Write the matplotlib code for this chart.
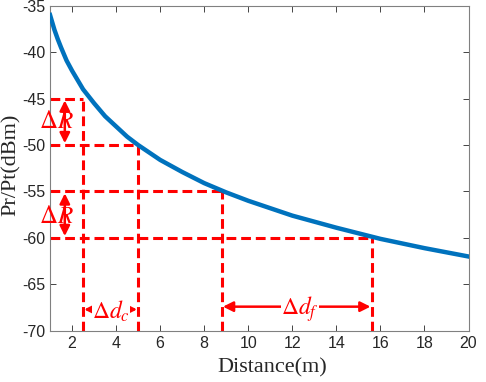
import matplotlib
matplotlib.use("Agg")
from matplotlib import pyplot as plt

plt.rcParams["mathtext.fontset"] = "stix"
plt.rcParams["axes.unicode_minus"] = False
plt.rcParams["font.family"] = ["Liberation Sans", "DejaVu Sans"]

# path loss curve
distance = [1, 1.1, 1.2, 1.35, 1.5, 1.75, 2, 2.25, 2.5, 3, 3.5, 4, 4.5, 5,
            6, 7, 8, 9, 10, 12, 14, 16, 18, 20]
power = [-36, -36.8, -37.6, -38.6, -39.5, -40.9, -42, -43.0, -44, -45.5,
         -46.9, -48, -49.1, -50, -51.6, -52.9, -54.1, -55.1, -56, -57.6,
         -58.9, -60.1, -61.1, -62]

# dashed guide lines: level (dBm) and the distance where it stops
levels = [-45, -50, -55, -60]
level_dist = [2.5, 5.0, 8.8, 15.6]

xticks = list(range(2, 21, 2))
yticks = list(range(-70, -34, 5))

blue = "#0072BD"
red = "#FF0000"
gray = "#262626"
serif = ["Liberation Serif", "DejaVu Serif"]
dash = (0, (3.2, 1.6))

fig = plt.figure(figsize=(4.86, 3.82), dpi=100)
ax = fig.add_axes([0.103, 0.134, 0.861, 0.851])

ax.plot(distance, power, color=blue, lw=3.2, zorder=3)

for lv, d in zip(levels, level_dist):
    ax.plot([1, d], [lv, lv], color=red, lw=2.2, linestyle=dash, zorder=2)
    ax.plot([d, d], [-70, lv], color=red, lw=2.2, linestyle=dash, zorder=2,
            clip_on=False)

arrow = dict(arrowstyle="<|-|>,head_length=0.6,head_width=0.3",
             color=red, lw=1.8, shrinkA=0, shrinkB=0)
box = dict(facecolor="white", edgecolor="none", pad=0)

# delta R arrows
ax.annotate("", xy=(1.67, -45.2), xytext=(1.67, -49.8), arrowprops=arrow)
ax.annotate("", xy=(1.67, -55.2), xytext=(1.67, -59.8), arrowprops=arrow)
for yc in [-47.4, -57.6]:
    ax.text(1.3, yc, r"$\Delta R$", color=red, fontsize=18,
            ha="center", va="center")

# delta d arrows
ax.annotate("", xy=(2.55, -67.7), xytext=(4.95, -67.7), arrowprops=arrow)
ax.annotate("", xy=(8.85, -67.4), xytext=(15.55, -67.4), arrowprops=arrow)
ax.text(3.75, -67.9, r"$\Delta d_c$", color=red, fontsize=17,
        ha="center", va="center", bbox=box)
ax.text(12.35, -67.7, r"$\Delta d_f$", color=red, fontsize=17,
        ha="center", va="center", bbox=box)

ax.set_xlim(1, 20)
ax.set_ylim(-70, -35)
ax.set_xticks(xticks)
ax.set_yticks(yticks)
ax.tick_params(direction="in", top=True, right=True, length=4,
               width=0.6, colors=gray, labelsize=11.5)
for s in ax.spines.values():
    s.set_color("#808080")
    s.set_linewidth(0.8)

ax.set_xlabel("Distance(m)", family=serif, fontsize=16, color=gray)
ax.set_ylabel("Pr/Pt(dBm)", family=serif, fontsize=16, color=gray)
ax.xaxis.set_label_coords(0.53, -0.085)
ax.yaxis.set_label_coords(-0.07, 0.51)

fig.savefig("out.png", dpi=100)
